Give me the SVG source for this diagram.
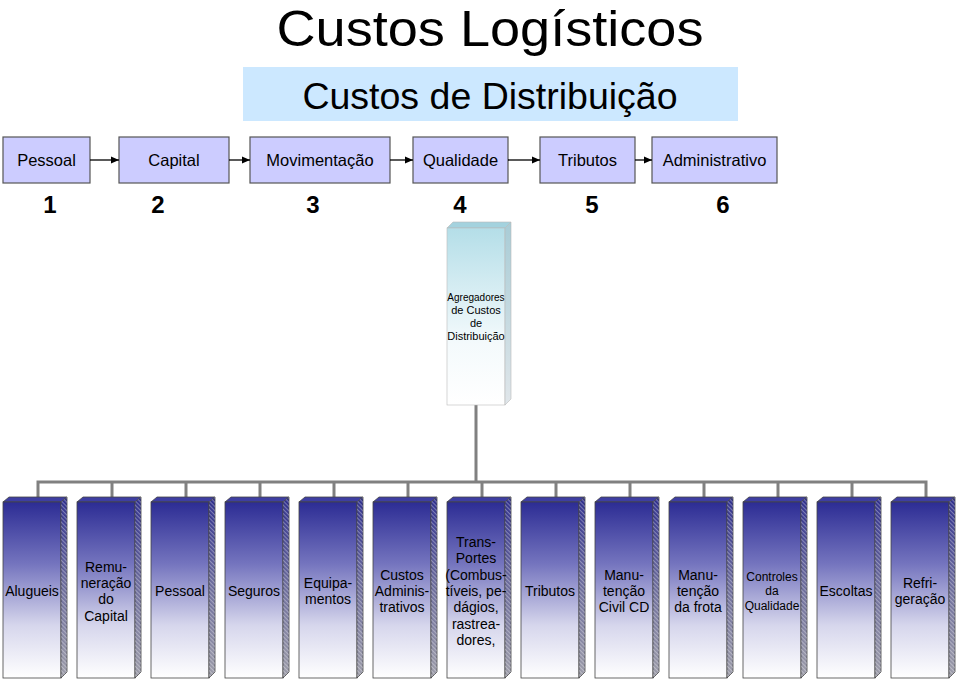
<svg xmlns="http://www.w3.org/2000/svg" xmlns:xlink="http://www.w3.org/1999/xlink" width="960" height="682" viewBox="0 0 960 682">
<defs>
<style>
text{font-family:"Liberation Sans",Arial,sans-serif;fill:#000}
.title{font-size:50px;text-anchor:middle}
.sub{font-size:37.5px;text-anchor:middle}
.tb{fill:#CCCCFF;stroke:#555;stroke-width:1.2}
.tt{font-size:16.5px;text-anchor:middle}
.num{font-size:24px;font-weight:bold;text-anchor:middle}
.ct{font-size:14px;text-anchor:middle}
.ag{font-size:11px;text-anchor:middle}
.conn{stroke:#808080;stroke-width:3;fill:none}
.arr{stroke:#000;stroke-width:1.3;fill:none;marker-end:url(#ah)}
</style>
<marker id="ah" markerWidth="10" markerHeight="10" refX="9" refY="5" orient="auto" markerUnits="userSpaceOnUse">
<path d="M1,1.5 L9,5 L1,8.5 Z" fill="#000"/>
</marker>
<linearGradient id="front" x1="0" y1="0" x2="0" y2="1">
<stop offset="0" stop-color="#2C2C94"/>
<stop offset="0.35" stop-color="#7474BE"/>
<stop offset="0.7" stop-color="#D6D6EC"/>
<stop offset="1" stop-color="#FFFFFF"/>
</linearGradient>
<linearGradient id="side" x1="0" y1="0" x2="0" y2="1">
<stop offset="0" stop-color="#2A2A8A"/>
<stop offset="0.5" stop-color="#6A6A9A"/>
<stop offset="1" stop-color="#9A9AA6"/>
</linearGradient>
<pattern id="hatch" width="3" height="3" patternUnits="userSpaceOnUse" patternTransform="rotate(45)">
<rect width="3" height="1.2" fill="#ffffff" fill-opacity="0.35"/>
</pattern>
<linearGradient id="agf" x1="0" y1="0" x2="0" y2="1">
<stop offset="0" stop-color="#B4DEE8"/>
<stop offset="0.65" stop-color="#F4FAFC"/>
<stop offset="1" stop-color="#FFFFFF"/>
</linearGradient>
<linearGradient id="ags" x1="0" y1="0" x2="0" y2="1">
<stop offset="0" stop-color="#A8CCD6"/>
<stop offset="1" stop-color="#E0E6EA"/>
</linearGradient>
<g id="col">
<polygon points="0,5 6,0 64,0 58,5" fill="#3E3EA2" stroke="#444" stroke-width="0.8"/>
<rect x="0" y="5" width="58" height="176" fill="url(#front)" stroke="#444" stroke-width="0.8"/>
<polygon points="58,5 64,0 64,175 58,181" fill="url(#side)" stroke="#444" stroke-width="0.8"/>
<polygon points="58,5 64,0 64,175 58,181" fill="url(#hatch)"/>
</g>
</defs>
<rect width="960" height="682" fill="#fff"/>

<g id="title"><text class="title" x="490" y="46" textLength="427" lengthAdjust="spacingAndGlyphs">Custos Logísticos</text></g>
<g id="banner">
<rect x="243" y="67" width="495" height="54" fill="#CCE8FF"/>
<text class="sub" x="490" y="109">Custos de Distribuição</text>
</g>

<g id="top-pessoal"><rect class="tb" x="3" y="137" width="87" height="46"/><text class="tt" x="46.5" y="166">Pessoal</text></g>
<g id="top-capital"><rect class="tb" x="119" y="137" width="110" height="46"/><text class="tt" x="174" y="166">Capital</text></g>
<g id="top-movimentacao"><rect class="tb" x="250" y="137" width="140" height="46"/><text class="tt" x="320" y="166">Movimentação</text></g>
<g id="top-qualidade"><rect class="tb" x="413" y="137" width="95" height="46"/><text class="tt" x="460.5" y="166">Qualidade</text></g>
<g id="top-tributos"><rect class="tb" x="540" y="137" width="95" height="46"/><text class="tt" x="587.5" y="166">Tributos</text></g>
<g id="top-administrativo"><rect class="tb" x="652" y="137" width="125" height="46"/><text class="tt" x="714.5" y="166">Administrativo</text></g>

<g id="numbers">
<text class="num" x="50" y="213">1</text>
<text class="num" x="158" y="213">2</text>
<text class="num" x="313" y="213">3</text>
<text class="num" x="460" y="213">4</text>
<text class="num" x="592" y="213">5</text>
<text class="num" x="723" y="213">6</text>
</g>

<g id="connectors">
<line class="arr" x1="90" y1="160" x2="119" y2="160"/>
<line class="arr" x1="229" y1="160" x2="250" y2="160"/>
<line class="arr" x1="390" y1="160" x2="413" y2="160"/>
<line class="arr" x1="508" y1="160" x2="540" y2="160"/>
<line class="arr" x1="635" y1="160" x2="652" y2="160"/>
<path class="conn" d="M476,405 V482 M38,497 V482 H926 V497 M112,482 V497 M186,482 V497 M260,482 V497 M334,482 V497 M408,482 V497 M482,482 V497 M556,482 V497 M630,482 V497 M704,482 V497 M778,482 V497 M852,482 V497"/>
</g>

<g id="agregadores">
<polygon points="447,228 453,222 511,222 505,228" fill="#A4D2DE" stroke="#bbb" stroke-width="0.6"/>
<rect x="447" y="228" width="58" height="177" fill="url(#agf)" stroke="#bbb" stroke-width="0.6"/>
<polygon points="505,228 511,222 511,399 505,405" fill="url(#ags)" stroke="#bbb" stroke-width="0.6"/>
<text class="ag" x="476" y="301" style="font-size:10px">Agregadores</text>
<text class="ag" x="476" y="314">de Custos</text>
<text class="ag" x="476" y="327">de</text>
<text class="ag" x="476" y="340">Distribuição</text>
</g>

<g id="c-alugueis"><use href="#col" x="3" y="497"/><text class="ct" x="32" y="596">Alugueis</text></g>
<g id="c-remuneracao"><use href="#col" x="77" y="497"/><text class="ct" x="106"><tspan x="106" y="572">Remu-</tspan><tspan x="106" y="588">neração</tspan><tspan x="106" y="604">do</tspan><tspan x="106" y="621">Capital</tspan></text></g>
<g id="c-pessoal"><use href="#col" x="151" y="497"/><text class="ct" x="180" y="596">Pessoal</text></g>
<g id="c-seguros"><use href="#col" x="225" y="497"/><text class="ct" x="254" y="596">Seguros</text></g>
<g id="c-equipamentos"><use href="#col" x="299" y="497"/><text class="ct" x="328"><tspan x="328" y="588">Equipa-</tspan><tspan x="328" y="604">mentos</tspan></text></g>
<g id="c-administrativos"><use href="#col" x="373" y="497"/><text class="ct" x="402"><tspan x="402" y="580">Custos</tspan><tspan x="402" y="596">Adminis-</tspan><tspan x="402" y="612">trativos</tspan></text></g>
<g id="c-transportes"><use href="#col" x="447" y="497"/><text class="ct" x="476"><tspan x="476" y="547">Trans-</tspan><tspan x="476" y="563">Portes</tspan><tspan x="476" y="580">(Combus-</tspan><tspan x="476" y="596">tíveis, pe-</tspan><tspan x="476" y="612">dágios,</tspan><tspan x="476" y="629">rastrea-</tspan><tspan x="476" y="645">dores,</tspan></text></g>
<g id="c-tributos"><use href="#col" x="521" y="497"/><text class="ct" x="550" y="596">Tributos</text></g>
<g id="c-civil"><use href="#col" x="595" y="497"/><text class="ct" x="624"><tspan x="624" y="580">Manu-</tspan><tspan x="624" y="596">tenção</tspan><tspan x="624" y="612">Civil CD</tspan></text></g>
<g id="c-frota"><use href="#col" x="669" y="497"/><text class="ct" x="698"><tspan x="698" y="580">Manu-</tspan><tspan x="698" y="596">tenção</tspan><tspan x="698" y="612">da frota</tspan></text></g>
<g id="c-qualidade"><use href="#col" x="743" y="497"/><text class="ct" x="772" style="font-size:12px"><tspan x="772" y="581">Controles</tspan><tspan x="772" y="595">da</tspan><tspan x="772" y="610">Qualidade</tspan></text></g>
<g id="c-escoltas"><use href="#col" x="817" y="497"/><text class="ct" x="846" y="596">Escoltas</text></g>
<g id="c-refrigeracao"><use href="#col" x="891" y="497"/><text class="ct" x="920"><tspan x="920" y="588">Refri-</tspan><tspan x="920" y="604">geração</tspan></text></g>
</svg>
